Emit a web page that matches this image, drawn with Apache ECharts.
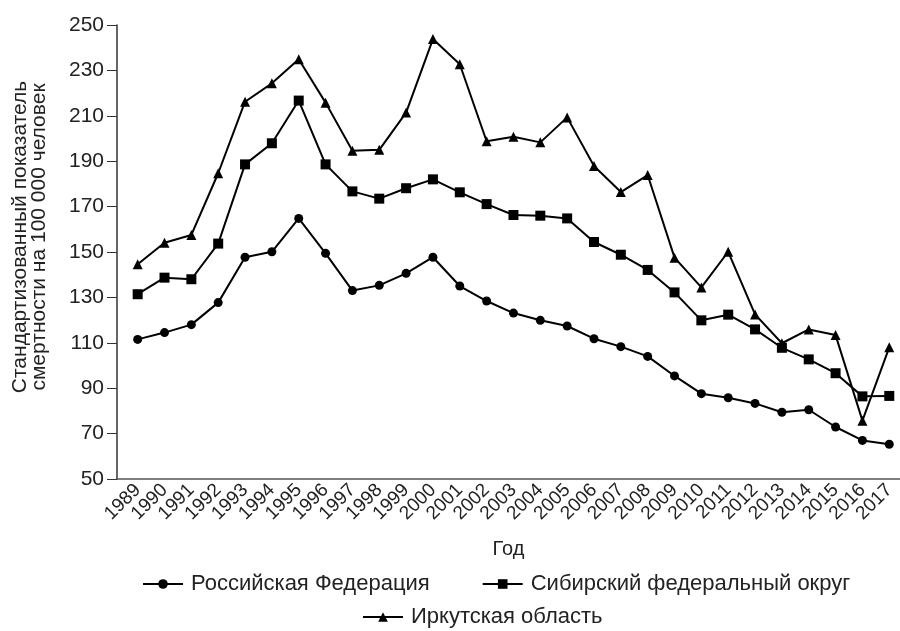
<!DOCTYPE html>
<html>
<head>
<meta charset="utf-8">
<script src="https://cdn.jsdelivr.net/npm/echarts@6/dist/echarts.min.js"></script>
<style>
  html, body { margin: 0; padding: 0; background: #fff; }
  #chart { width: 900px; height: 631px; }
</style>
</head>
<body>
<div id="chart"></div>
<script>
// годы
const years = [1989, 1990, 1991, 1992, 1993, 1994, 1995, 1996, 1997, 1998, 1999, 2000, 2001, 2002,
  2003, 2004, 2005, 2006, 2007, 2008, 2009, 2010, 2011, 2012, 2013, 2014, 2015, 2016, 2017];

// Российская Федерация
const rf = [111.5, 114.5, 118, 127.7, 147.7, 150.1, 164.8, 149.4, 133, 135.3, 140.6, 147.7, 135, 128.4,
  123.1, 119.9, 117.4, 111.8, 108.3, 104, 95.4, 87.6, 85.8, 83.3, 79.4, 80.5, 72.9, 67, 65.3];

// Сибирский федеральный округ
const sfo = [131.4, 138.7, 138, 153.7, 188.6, 197.9, 216.7, 188.6, 176.7, 173.5, 178.1, 182, 176.3, 171.1,
  166.3, 166, 164.8, 154.4, 148.8, 142.1, 132.2, 119.9, 122.4, 115.9, 107.8, 102.7, 96.6, 86.4, 86.6];

// Иркутская область
const irk = [144.6, 154.1, 157.5, 184.7, 216.2, 224.3, 234.9, 215.8, 194.6, 195, 211.4, 243.8, 232.7, 198.8,
  200.8, 198.3, 209.3, 187.9, 176.4, 183.9, 147.5, 134.4, 150.1, 122.5, 109.8, 115.9, 113.4, 75.7, 108];

const yTicks = [50, 70, 90, 110, 130, 150, 170, 190, 210, 230, 250];

const font = 'Liberation Sans, Arial, sans-serif';
const chart = echarts.init(document.getElementById('chart'));

const pairs = arr => years.map((y, i) => [y, arr[i]]);

const lineSeries = (name, data, symbol, size) => ({
  name: name,
  type: 'line',
  data: pairs(data),
  symbol: symbol,
  symbolSize: size,
  lineStyle: { color: '#000', width: 2 },
  itemStyle: { color: '#000' },
  animation: false
});

const legendText = { fontSize: 22, color: '#222', fontFamily: font, padding: [0, 0, 0, 3] };

chart.setOption({
  backgroundColor: '#fff',
  textStyle: { fontFamily: font },
  grid: { left: 117, right: 0, top: 25, bottom: 152 },
  xAxis: {
    type: 'value',
    min: 1988.23,
    max: 2017.4,
    name: 'Год',
    nameLocation: 'middle',
    nameGap: 60,
    nameTextStyle: { fontSize: 20, color: '#222', fontFamily: font },
    axisLine: { show: true, lineStyle: { color: '#555', width: 1.5 } },
    axisTick: { show: false },
    splitLine: { show: false },
    axisLabel: {
      customValues: years,
      rotate: 45,
      fontSize: 19,
      color: '#222',
      margin: 8,
      fontFamily: font,
      showMinLabel: true,
      showMaxLabel: true,
      hideOverlap: false,
      formatter: v => String(v)
    }
  },
  yAxis: {
    type: 'value',
    min: 50,
    max: 250,
    interval: 20,
    name: 'Стандартизованный показатель\nсмертности на 100 000 человек',
    nameLocation: 'middle',
    nameGap: 68,
    nameTextStyle: { fontSize: 21, color: '#222', lineHeight: 19, fontFamily: font, padding: [0, 0, 0, 30] },
    axisLine: { show: true, lineStyle: { color: '#333', width: 1.5 } },
    axisTick: { show: true, length: 10, lineStyle: { color: '#333' } },
    splitLine: { show: false },
    axisLabel: {
      fontSize: 21,
      color: '#222',
      margin: 13,
      fontFamily: font,
      formatter: v => (yTicks.includes(v) ? String(v) : '')
    }
  },
  legend: [
    {
      data: ['Российская Федерация', 'Сибирский федеральный округ'],
      left: 142,
      top: 573,
      padding: 0,
      itemWidth: 40,
      itemHeight: 12,
      itemGap: 52,
      textStyle: legendText
    },
    {
      data: ['Иркутская область'],
      left: 362,
      top: 606,
      padding: 0,
      itemWidth: 40,
      itemHeight: 12,
      textStyle: legendText
    }
  ],
  series: [
    lineSeries('Российская Федерация', rf, 'circle', 9),
    lineSeries('Сибирский федеральный округ', sfo, 'rect', 10),
    lineSeries('Иркутская область', irk, 'triangle', 10)
  ]
});
</script>
</body>
</html>
